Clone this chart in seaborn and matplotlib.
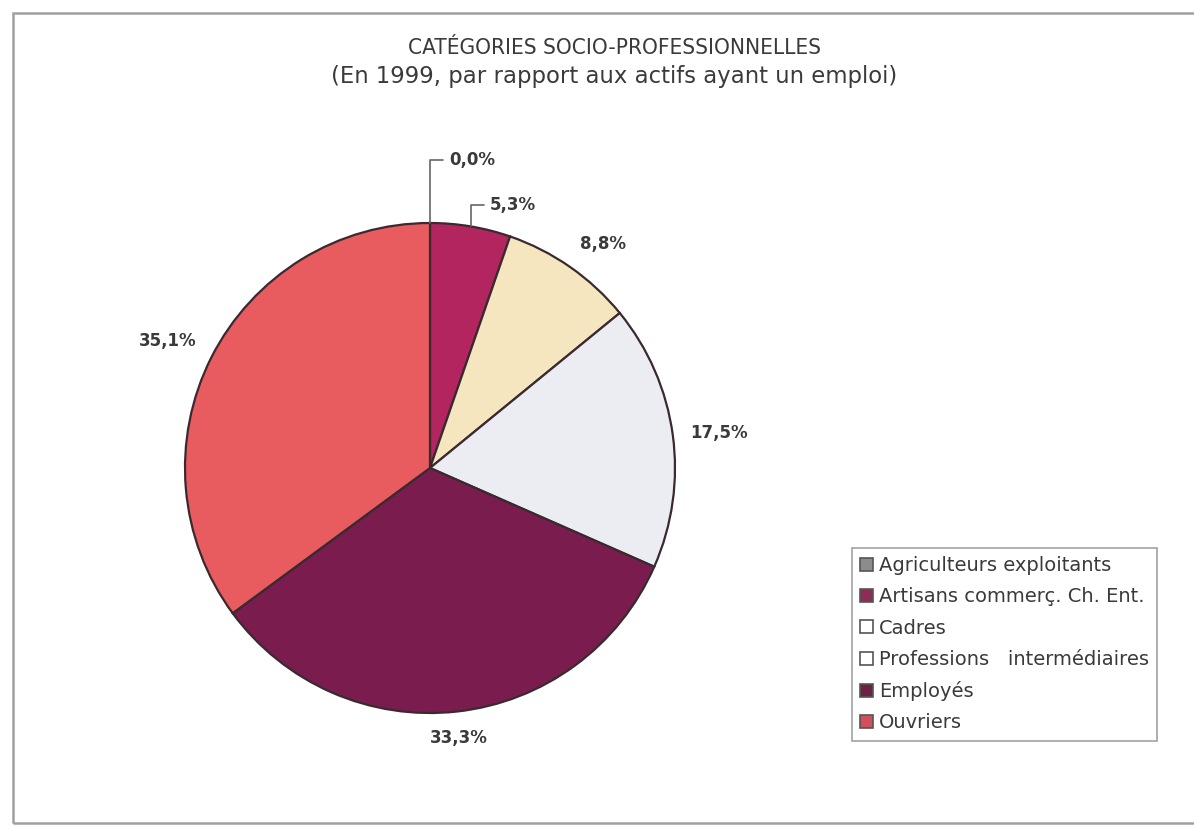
import numpy as np
import matplotlib
matplotlib.use("Agg")
import matplotlib.pyplot as plt
import matplotlib.patches as mpatches
import seaborn as sns

# Socio-professional categories, share of employed workers in 1999 (%)
categories = [
    "Agriculteurs exploitants",
    "Artisans commerç. Ch. Ent.",
    "Cadres",
    "Professions   intermédiaires",
    "Employés",
    "Ouvriers",
]
shares = [0.0, 5.3, 8.8, 17.5, 33.3, 35.1]
slice_colors = ["#8c8c8c", "#b3255f", "#f5e6c0", "#ececf3", "#7a1d4e", "#e85b5e"]
legend_colors = ["#8c8c8c", "#8e2c58", "#ffffff", "#ffffff", "#6e2045", "#d0505e"]
title_lines = ["CATÉGORIES SOCIO-PROFESSIONNELLES",
               "(En 1999, par rapport aux actifs ayant un emploi)"]

sns.set_theme(style="white")
plt.rcParams["font.family"] = ["DejaVu Sans"]
text_color = "#3a3a3a"

W, H = 1194, 826
fig = plt.figure(figsize=(W / 100, H / 100), dpi=100)
fig.patch.set_facecolor("white")

# outer frame
fig.add_artist(mpatches.Rectangle((13 / W, 3 / H), 1190 / W, 810 / H,
                                  transform=fig.transFigure, fill=False,
                                  edgecolor="#a0a0a0", lw=1.8))

fig.text(615 / W, 1 - 48 / H, title_lines[0], ha="center", va="center",
         fontsize=16.2, color=text_color, fontstretch="condensed")
fig.text(614 / W, 1 - 76 / H, title_lines[1], ha="center", va="center",
         fontsize=16.4, color=text_color)

# pie axes: centre (430, 468) px, radius 245 px
R = 245
cx, cy = 430, 468
ax = fig.add_axes([(cx - R) / W, (H - cy - R) / H, 2 * R / W, 2 * R / H])
wedges, _ = ax.pie(shares, colors=slice_colors, startangle=90, counterclock=False,
                   radius=1.0,
                   wedgeprops=dict(edgecolor="#3a2a30", linewidth=1.6))
ax.set_xlim(-1, 1)
ax.set_ylim(-1, 1)
ax.set_aspect("equal")
ax.axis("off")


def fmt(v):
    return f"{v:.1f}%".replace(".", ",")


label_kw = dict(fontsize=12, color=text_color, fontweight="bold")
leader_rise = {0: 0.257, 1: 0.087}  # height of the leader lines above the rim
for i, (w, v) in enumerate(zip(wedges, shares)):
    mid = np.deg2rad((w.theta1 + w.theta2) / 2)
    x, y = np.cos(mid), np.sin(mid)
    if i in leader_rise:
        top = y + leader_rise[i]
        ax.plot([x, x, x + 0.055], [y, top, top], color="#666666", lw=1.2,
                clip_on=False)
        ax.text(x + 0.08, top, fmt(v), ha="left", va="center", clip_on=False,
                **label_kw)
    else:
        d = 1.07
        ha = "left" if x > 0.3 else ("right" if x < -0.3 else "center")
        va = "bottom" if y > 0.3 else ("top" if y < -0.3 else "center")
        ax.text(d * x, d * y, fmt(v), ha=ha, va=va, clip_on=False, **label_kw)

handles = [mpatches.Patch(facecolor=c, edgecolor="#555555", lw=1.2) for c in legend_colors]
leg = fig.legend(handles, categories, loc="upper left",
                 bbox_to_anchor=(852 / W, 1 - 548 / H),
                 frameon=True, fontsize=14, handlelength=0.65, handleheight=0.65,
                 handletextpad=0.3, labelspacing=0.63, borderpad=0.42,
                 borderaxespad=0, fancybox=False)
leg.get_frame().set_edgecolor("#8a8a8a")
leg.get_frame().set_linewidth(1.2)
for t in leg.get_texts():
    t.set_color(text_color)

fig.savefig("out.png", dpi=100, facecolor="white")
